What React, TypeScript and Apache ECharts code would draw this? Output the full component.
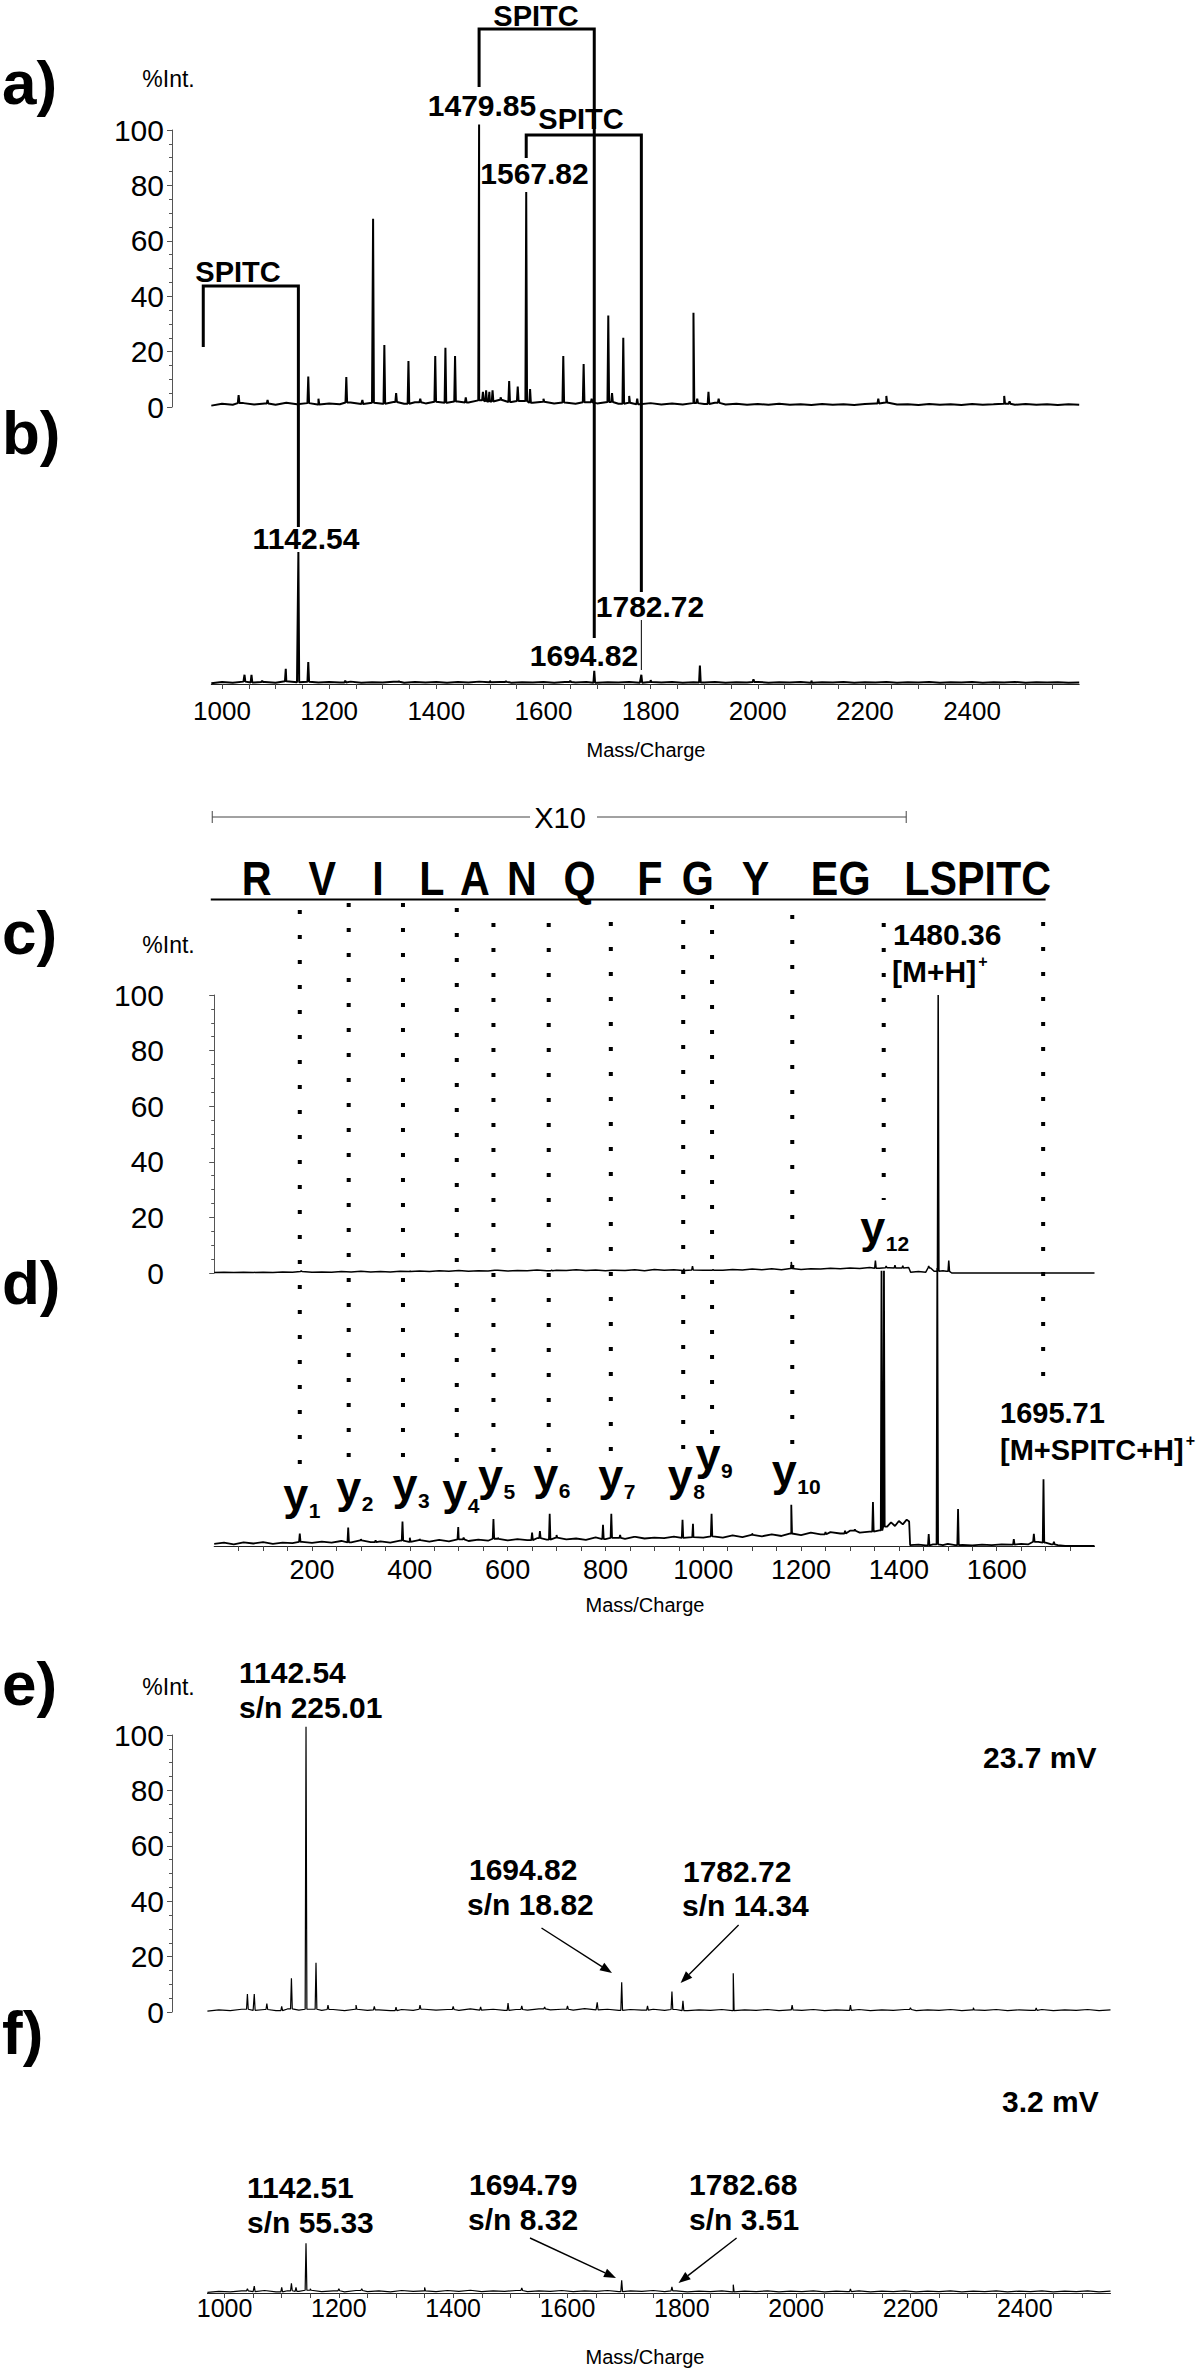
import React, { useEffect, useRef } from "react";
import * as echarts from "echarts";

const FONT = "'Liberation Sans', Arial, Helvetica, sans-serif";
const NOISE_STEP = 20;

// ---------------- Panels a / b : m/z 980 - 2600 ----------------
const AB_RANGE = [980, 2600];
const AB_TICK_LABELS = [1000, 1200, 1400, 1600, 1800, 2000, 2200, 2400];
const AB_MINOR_TICKS = [1000, 1050, 1100, 1150, 1200, 1250, 1300, 1350, 1400, 1450, 1500, 1550, 1600, 1650, 1700, 1750, 1800, 1850, 1900, 1950, 2000, 2050, 2100, 2150, 2200, 2250, 2300, 2350, 2400, 2450, 2500, 2550];
const A_NOISE = [
  0.5, 1.2, 0.8, 1.4, 0.9, 1.3, 0.8, 1.5, 1.0, 1.4,
  0.9, 1.3, 1.0, 1.6, 1.1, 1.5, 1.2, 1.8, 1.2, 1.7,
  1.3, 1.9, 1.5, 2.0, 1.6, 2.4, 2.0, 2.6, 1.8, 2.2,
  1.5, 1.9, 1.3, 1.6, 1.2, 1.7, 1.3, 1.8, 1.2, 1.5,
  1.0, 1.4, 0.9, 1.3, 0.9, 1.4, 1.1, 1.5, 0.9, 1.2,
  0.8, 1.1, 0.8, 1.2, 0.8, 1.0, 0.7, 1.1, 0.8, 1.0,
  0.7, 1.1, 1.3, 1.6, 0.9, 1.0, 0.7, 1.1, 0.8, 1.0,
  0.7, 1.1, 0.8, 1.0, 1.2, 0.8, 1.1, 0.8, 1.0, 0.7,
  1.0, 0.8,
];
const A_PEAKS = [
  [1031, 4.3], [1085, 2.5], [1161, 11], [1180, 3], [1232, 10.8], [1262, 2.5], [1282, 68], [1303, 22.4],
  [1325, 5], [1348, 16.6], [1370, 3], [1398, 18.4], [1417, 21.4], [1435, 18.4], [1455, 3.5], [1479.85, 102],
  [1487, 5.5], [1493, 6], [1499, 5.5], [1505, 6], [1520, 3.5], [1536, 9.4], [1552, 7.4], [1567.82, 77.6],
  [1575, 6.5], [1600, 3], [1637, 18.4], [1675, 15.5], [1690, 3], [1721, 33], [1728, 5], [1749, 25],
  [1760, 4], [1775, 3], [1880, 34], [1887, 3], [1908, 5.5], [1927, 3], [2225, 3], [2240, 4], [2460, 4], [2470, 2],
];
const B_NOISE = [
  0.5, 1.5, 1.0, 1.8, 1.2, 1.6, 1.0, 2.0, 1.3, 1.7,
  1.1, 1.5, 1.2, 1.8, 1.0, 1.4, 1.1, 1.7, 1.0, 1.5,
  1.2, 1.6, 1.0, 1.5, 1.1, 1.8, 1.3, 1.6, 1.0, 1.4,
  1.1, 1.5, 1.0, 1.6, 1.2, 1.5, 1.0, 1.4, 1.1, 1.6,
  1.0, 1.5, 1.2, 1.6, 1.0, 1.3, 1.1, 1.5, 1.0, 1.4,
  1.1, 1.6, 1.0, 1.3, 1.2, 1.5, 1.0, 1.4, 1.1, 1.5,
  1.0, 1.3, 1.1, 1.6, 1.0, 1.4, 1.2, 1.5, 1.0, 1.3,
  1.1, 1.5, 1.0, 1.4, 1.2, 1.5, 1.0, 1.3, 1.1, 1.4,
  1.0, 1.2,
];
const B_PEAKS = [
  [1042, 7], [1055, 7], [1075, 2.5], [1119, 11.5], [1142.54, 100], [1161, 16.7], [1230, 2.5], [1330, 2],
  [1500, 2.5], [1530, 2], [1650, 2.5], [1694.82, 10], [1782.72, 7], [1800, 3], [1892, 14], [1992, 3.5], [2100, 2.5],
];

// ---------------- Panels c / d : m/z 0 - 1800 ----------------
const CD_RANGE = [0, 1800];
const CD_TICK_LABELS = [200, 400, 600, 800, 1000, 1200, 1400, 1600];
const CD_MINOR_TICKS = [50, 100, 150, 200, 250, 300, 350, 400, 450, 500, 550, 600, 650, 700, 750, 800, 850, 900, 950, 1000, 1050, 1100, 1150, 1200, 1250, 1300, 1350, 1400, 1450, 1500, 1550, 1600, 1650, 1700, 1750];
const C_NOISE = [
  0.2, 0.3, 0.2, 0.3, 0.2, 0.3, 0.2, 0.4, 0.3, 0.5, 0.3, 0.4, 0.3, 0.5, 0.4, 0.6, 0.4, 0.5, 0.4, 0.6, 0.5,
  0.7, 0.5, 0.8, 0.6, 0.9, 0.6, 0.8, 0.7, 1.0, 0.7, 0.9, 0.8, 1.1, 0.8, 1.0, 0.9, 1.2, 0.9, 1.1, 0.8,
  1.0, 0.9, 1.2, 0.8, 1.3, 1.0, 1.2, 0.9, 1.1, 1.0,
  1.2, 1.0, 1.3, 1.1, 1.4, 1.2, 1.5, 1.2, 1.6, 1.3, 1.5, 1.4, 1.7, 1.5, 1.8, 1.6, 2.0, 1.7, 1.9, 1.8, 2.0,
];
const C_TAIL = [[1424, 0.3], [1440, 0.5], [1455, 0.3], [1465, 1.8], [1472, 0.6], [1490, 0.8], [1497, 0.6], [1508, 0], [1800, 0]];
const C_PEAKS = [
  [178, 0.8], [400, 0.8], [575, 1], [690, 1], [815, 1], [960, 1.5], [978, 2.5], [1020, 1], [1180, 4],
  [1352, 4.5], [1374, 2.5], [1392, 2.8], [1408, 2.6], [1461, 2.5], [1480.36, 100], [1502, 4.5],
];
const D_NOISE = [
  0.8, 1.2, 0.6, 1.3, 0.9, 1.4, 0.8, 1.2, 1.0, 1.5, 1.1,
  1.6, 1.2, 1.8, 1.3, 2.0, 1.4, 1.7, 1.2, 1.9, 1.5, 2.1, 1.6, 2.2, 1.7, 2.4, 1.8, 2.3, 1.9, 2.6, 2.0,
  2.5, 2.1, 2.8, 2.3, 3.0, 2.4, 2.7, 2.2, 3.1, 2.5, 2.9, 2.6, 3.3, 2.7, 3.0, 2.8, 3.4, 2.9, 3.2, 3.0,
  3.5, 3.0, 3.8, 3.2, 4.0, 3.5, 4.2, 3.6, 4.5, 3.9, 4.8, 4.2, 5.0, 4.5, 5.5, 4.8, 5.2, 5.6,
];
const D_TAIL = [
  [1376, 7], [1384, 8.5], [1392, 7.2], [1400, 9], [1408, 7.8], [1416, 9.5], [1421, 8.8], [1423, 0.3],
  [1440, 0.5], [1455, 0.2], [1470, 0.6], [1490, 0.3], [1500, 0.8], [1515, 0.3], [1530, 0.4], [1550, 0.2],
  [1570, 0.5], [1590, 0.3], [1610, 0.6], [1630, 0.5], [1650, 0.8], [1665, 0.6], [1685, 1.5], [1700, 1.2],
  [1712, 0.6], [1725, 0.3], [1740, 0], [1800, 0],
];
const D_PEAKS = [
  [175, 4.5], [274, 6.6], [300, 2.5], [330, 2], [385, 8.8], [400, 3], [420, 2.5], [499, 6.8], [510, 3],
  [571, 9.7], [580, 3], [650, 4.8], [666, 5.4], [686, 11.6], [700, 4], [795, 7.6], [812, 11.6], [830, 4],
  [860, 3.5], [957.6, 9.4], [979, 8], [1017, 11.6], [1100, 4.5], [1180, 14.8], [1250, 5], [1290, 5.5],
  [1310, 6], [1347, 15.8], [1364.5, 99], [1369.5, 99], [1461, 4.3], [1478.6, 100], [1521, 13.3],
  [1635, 2.5], [1676, 4.4], [1695.71, 24], [1717, 1.5],
];
const SEQUENCE = ["R", "V", "I", "L", "A", "N", "Q", "F", "G", "Y", "EG", "LSPITC"];
const SEQUENCE_MZ = [87, 221, 335, 445, 533, 629, 747, 891, 989, 1107, 1281, 1561];
const CLEAVAGE_MZ = [175, 275, 386, 496, 571, 684, 811, 959, 1018, 1182, 1369, 1695];
const Y_ION_SUBSCRIPTS = ["1", "2", "3", "4", "5", "6", "7", "8", "9", "10", "12"];

// ---------------- Panels e / f : m/z 970 - 2550 ----------------
const EF_RANGE = [970, 2550];
const EF_TICK_LABELS = [1000, 1200, 1400, 1600, 1800, 2000, 2200, 2400];
const EF_MINOR_TICKS = [1000, 1050, 1100, 1150, 1200, 1250, 1300, 1350, 1400, 1450, 1500, 1550, 1600, 1650, 1700, 1750, 1800, 1850, 1900, 1950, 2000, 2050, 2100, 2150, 2200, 2250, 2300, 2350, 2400, 2450, 2500];
const E_NOISE = [
  0.3, 0.8, 0.5, 1.0, 0.6, 0.9, 0.5, 1.1, 0.7, 1.0,
  0.6, 0.9, 0.5, 1.0, 0.6, 0.8, 0.5, 0.9, 0.6, 1.0,
  0.7, 0.9, 0.6, 1.1, 0.7, 1.0, 0.6, 0.9, 0.7, 1.1,
  0.8, 1.0, 0.7, 1.2, 0.8, 1.0, 0.6, 0.9, 0.7, 1.0,
  0.6, 0.9, 0.5, 0.8, 0.6, 0.9, 0.5, 0.8, 0.6, 0.9,
  0.5, 0.8, 0.6, 0.9, 0.5, 0.8, 0.6, 0.9, 0.5, 0.8,
  0.6, 0.9, 0.5, 0.8, 0.6, 0.9, 0.5, 0.8, 0.6, 0.9,
  0.5, 0.8, 0.6, 0.9, 0.5, 0.8, 0.6, 0.9, 0.5, 0.8,
];
const E_PEAKS = [
  [1040, 6.5], [1052, 6.5], [1074, 3], [1100, 2], [1117, 12.2], [1142.54, 103], [1160, 17.8], [1181, 2.5],
  [1230, 2.5], [1262, 2], [1300, 1.8], [1342, 2.5], [1400, 2], [1448, 1.8], [1496, 3.2], [1520, 2.2],
  [1560, 1.8], [1600, 2.2], [1652, 3.5], [1694.82, 10.7], [1740, 2.2], [1782.72, 7.4], [1802, 4], [1890, 14],
  [1993, 2.5], [2095, 2.5], [2200, 1.5], [2310, 1.5], [2420, 1.5],
];
const F_NOISE = [
  0.2, 0.6, 0.4, 0.8, 0.5, 0.9, 0.4, 0.8, 0.6, 1.0,
  0.5, 0.8, 0.4, 0.9, 0.5, 0.8, 0.4, 0.9, 0.6, 0.8,
  0.5, 0.9, 0.6, 1.0, 0.5, 0.8, 0.6, 0.9, 0.5, 0.8,
  0.6, 0.9, 0.5, 0.8, 0.6, 0.9, 0.5, 0.8, 0.6, 0.9,
  0.5, 0.8, 0.4, 0.7, 0.5, 0.8, 0.4, 0.7, 0.5, 0.8,
  0.4, 0.7, 0.5, 0.8, 0.4, 0.7, 0.5, 0.8, 0.4, 0.7,
  0.5, 0.8, 0.4, 0.7, 0.5, 0.8, 0.4, 0.7, 0.5, 0.8,
  0.4, 0.7, 0.5, 0.8, 0.4, 0.7, 0.5, 0.8, 0.4, 0.7,
];
const F_PEAKS = [
  [1040, 1.5], [1052, 2.5], [1100, 2], [1117, 3.5], [1125, 2], [1142.51, 18], [1150, 1.5], [1200, 1.5],
  [1240, 1.5], [1350, 2], [1520, 1.8], [1694.79, 4.6], [1782.68, 2.2], [1890, 3], [2095, 1.5],
];

// --------------------------------------------------------------
function buildSpectrum(start: number, noise: number[], peaks: number[][], tail: number[][] = [], halfWidth = 1.5) {
  const pts: number[][] = noise.map((v, i) => [start + i * NOISE_STEP, v]).concat(tail);
  const base = (m: number) => {
    let best = pts[0];
    for (const p of pts) if (Math.abs(p[0] - m) < Math.abs(best[0] - m)) best = p;
    return best[1];
  };
  const out = pts.slice();
  for (const [m, h] of peaks) {
    const b = Math.min(base(m), h);
    out.push([m - halfWidth, b], [m, h], [m + halfWidth, b]);
  }
  out.sort((a, b) => a[0] - b[0]);
  return out;
}

const GRIDS = [
  { left: 211.3, top: 130, width: 867.9, height: 277 },
  { left: 211.3, top: 552, width: 867.9, height: 132 },
  { left: 214.2, top: 995, width: 880.3, height: 278 },
  { left: 214.2, top: 1268, width: 880.3, height: 278 },
  { left: 207.4, top: 1735, width: 903.1, height: 277 },
  { left: 207.4, top: 2016, width: 903.1, height: 277 },
];

const plain = (v: number) => String(v);

const yVisible = (gridIndex: number, offset: number) => ({
  type: "value", gridIndex, min: 0, max: 100, interval: 20, offset,
  axisLine: { show: true, lineStyle: { color: "#555", width: 1 } },
  axisTick: { show: true, length: 5, lineStyle: { color: "#555" } },
  minorTick: { show: true, splitNumber: 4, length: 3, lineStyle: { color: "#555" } },
  axisLabel: { color: "#000", fontSize: 30, fontFamily: FONT, margin: 8, formatter: plain },
  splitLine: { show: false },
  minorSplitLine: { show: false },
});
const yHidden = (gridIndex: number) => ({ type: "value", gridIndex, min: 0, max: 100, show: false });
const xHidden = (gridIndex: number, range: number[]) => ({ type: "value", gridIndex, min: range[0], max: range[1], show: false });
const xVisible = (gridIndex: number, range: number[], ticks: number[], labels: number[], fontSize: number, margin: number) => ({
  type: "value", gridIndex, min: range[0], max: range[1], position: "bottom",
  axisLine: { show: true, onZero: false, lineStyle: { color: "#222", width: 1 } },
  axisTick: { show: true, customValues: ticks, length: 5, lineStyle: { color: "#444" } },
  axisLabel: { customValues: labels, fontSize, margin, color: "#000", fontFamily: FONT, formatter: plain },
  splitLine: { show: false },
});
const lineSeries = (idx: number, data: number[][], width: number) => ({
  type: "line", xAxisIndex: idx, yAxisIndex: idx, data, symbol: "none", showSymbol: false,
  clip: false, silent: true, lineStyle: { color: "#000", width }, z: 5,
});

function buildOption() {
  return {
    animation: false,
    backgroundColor: "#fff",
    grid: GRIDS,
    xAxis: [
      xHidden(0, AB_RANGE),
      xVisible(1, AB_RANGE, AB_MINOR_TICKS, AB_TICK_LABELS, 26, 14),
      xHidden(2, CD_RANGE),
      xVisible(3, CD_RANGE, CD_MINOR_TICKS, CD_TICK_LABELS, 27, 10),
      xHidden(4, EF_RANGE),
      xVisible(5, EF_RANGE, EF_MINOR_TICKS, EF_TICK_LABELS, 25, 2),
    ],
    yAxis: [
      yVisible(0, 39.3), yHidden(1),
      yVisible(2, 42.2), yHidden(3),
      yVisible(4, 35.4), yHidden(5),
    ],
    series: [
      lineSeries(0, buildSpectrum(AB_RANGE[0], A_NOISE, A_PEAKS), 2),
      lineSeries(1, buildSpectrum(AB_RANGE[0], B_NOISE, B_PEAKS), 2),
      lineSeries(2, buildSpectrum(CD_RANGE[0], C_NOISE, C_PEAKS, C_TAIL), 1.5),
      lineSeries(3, buildSpectrum(CD_RANGE[0], D_NOISE, D_PEAKS, D_TAIL), 1.8),
      lineSeries(4, buildSpectrum(EF_RANGE[0], E_NOISE, E_PEAKS), 1.2),
      lineSeries(5, buildSpectrum(EF_RANGE[0], F_NOISE, F_PEAKS), 1.2),
    ],
  };
}

function measure(s: string, size: number, weight: string) {
  try {
    const ctx = document.createElement("canvas").getContext("2d");
    if (!ctx) return s.length * size * 0.6;
    ctx.font = `${weight} ${size}px ${FONT}`;
    return ctx.measureText(s).width;
  } catch (e) {
    return s.length * size * 0.6;
  }
}

function buildGraphics(chart: any) {
  const P = (g: number, m: number, v: number) => chart.convertToPixel({ gridIndex: g }, [m, v]) as number[];
  const X = (g: number, m: number) => P(g, m, 0)[0];
  const els: any[] = [];
  const txt = (x: number, y: number, s: string, size: number, opts: any = {}) => {
    const align = opts.align || "center";
    els.push({
      type: "text", x, y, silent: true, z: 100, scaleX: opts.scaleX || 1,
      style: {
        text: s, fill: "#000", fontFamily: FONT, fontSize: size,
        fontWeight: opts.bold === false ? "normal" : "bold",
        align, verticalAlign: "middle", textAlign: align, textVerticalAlign: "middle",
      },
    });
  };
  const seg = (x1: number, y1: number, x2: number, y2: number, w: number, opts: any = {}) => {
    els.push({
      type: "line", silent: true, z: 90, shape: { x1, y1, x2, y2 },
      style: { stroke: opts.color || "#000", lineWidth: w, lineDash: opts.dash, lineCap: "butt" },
    });
  };
  const poly = (pts: number[][], w: number) => {
    els.push({ type: "polyline", silent: true, z: 90, shape: { points: pts }, style: { stroke: "#000", lineWidth: w, lineJoin: "miter", fill: null } });
  };
  const arrow = (x1: number, y1: number, x2: number, y2: number) => {
    const a = Math.atan2(y2 - y1, x2 - x1);
    const L = 12, Wd = 4.5;
    const bx = x2 - L * Math.cos(a), by = y2 - L * Math.sin(a);
    const px = -Math.sin(a) * Wd, py = Math.cos(a) * Wd;
    seg(x1, y1, bx, by, 1.4);
    els.push({ type: "polygon", silent: true, z: 90, shape: { points: [[x2, y2], [bx + px, by + py], [bx - px, by - py]] }, style: { fill: "#000" } });
  };

  // panel letters
  [["a)", 82.5], ["b)", 432.5], ["c)", 932.5], ["d)", 1282.5], ["e)", 1683.5], ["f)", 2032.5]].forEach(([s, y]) =>
    txt(2, y as number, s as string, 62, { align: "left" })
  );
  // %Int. axis titles
  [79, 945, 1687].forEach((y) => txt(168.5, y, "%Int.", 23, { bold: false }));
  // Mass/Charge axis names
  [[646, 750], [645, 1605], [645, 2357]].forEach(([x, y]) => txt(x, y, "Mass/Charge", 20, { bold: false }));

  // ---- a / b brackets
  const b1L = X(0, 965), b1R = X(0, 1142.54);
  const b2L = X(0, 1479.85), b2R = X(0, 1694.82);
  const b3L = X(0, 1567.82), b3R = X(0, 1782.72);
  poly([[b1L, 347], [b1L, 286], [b1R, 286], [b1R, 527]], 3);
  poly([[b2L, 87], [b2L, 29], [b2R, 29], [b2R, 638]], 3);
  poly([[b3L, 158], [b3L, 135], [b3R, 135], [b3R, 592]], 3);
  seg(b3R, 620, b3R, 670, 1);
  txt(238, 272, "SPITC", 29);
  txt(536, 15.5, "SPITC", 29);
  txt(581, 119, "SPITC", 29);
  txt(482, 105.5, "1479.85", 30);
  txt(534.5, 173.5, "1567.82", 30);
  txt(306, 538.3, "1142.54", 30);
  txt(650, 606.7, "1782.72", 30);
  txt(584, 655, "1694.82", 30);

  // ---- c / d
  const x10L = X(2, -4), x10R = X(2, 1415);
  seg(x10L, 817, 530, 817, 1, { color: "#444" });
  seg(597, 817, x10R, 817, 1, { color: "#444" });
  seg(x10L, 811, x10L, 823, 1, { color: "#444" });
  seg(x10R, 811, x10R, 823, 1, { color: "#444" });
  txt(560, 817.5, "X10", 29, { bold: false });
  SEQUENCE.forEach((s, i) => txt(X(2, SEQUENCE_MZ[i]), 878, s, 48, { scaleX: 0.86 }));
  seg(X(2, -7), 899.5, X(2, 1700), 899.5, 2);
  const dotTop = [910, 903, 903, 908, 923, 923, 922, 920, 905, 915, 923, 922];
  const dotBottom = [1465, 1458, 1458, 1463, 1453, 1453, 1453, 1450, 1435, 1445, 1200, 1377];
  CLEAVAGE_MZ.forEach((m, i) => {
    const x = X(3, m);
    seg(x, dotTop[i], x, dotBottom[i], 4, { dash: [4, 21] });
  });
  const yDx = [-4, 0, 2, -2, -3, -3, 0, -3, -4, -8, -11];
  const yBase = [1510, 1503, 1500, 1505, 1491, 1490, 1491, 1491, 1470, 1486, 1243];
  Y_ION_SUBSCRIPTS.forEach((sub, i) => {
    const cx = X(3, CLEAVAGE_MZ[i]) + yDx[i];
    txt(cx, yBase[i] - 15.6, "y", 45);
    txt(cx + 13, yBase[i] + 8 - 7.3, sub, 21, { align: "left" });
  });
  txt(893, 934, "1480.36", 30, { align: "left" });
  txt(892, 971, "[M+H]", 30, { align: "left" });
  txt(892 + measure("[M+H]", 30, "bold") + 2, 961, "+", 16, { align: "left" });
  txt(1000, 1413, "1695.71", 29, { align: "left" });
  txt(1000, 1450, "[M+SPITC+H]", 29, { align: "left" });
  txt(1000 + measure("[M+SPITC+H]", 29, "bold") + 2, 1440, "+", 16, { align: "left" });

  // ---- e / f
  const left = { align: "left" };
  txt(239, 1672, "1142.54", 30, left);
  txt(239, 1707, "s/n 225.01", 30, left);
  txt(983, 1757.5, "23.7 mV", 30, left);
  txt(469, 1869, "1694.82", 30, left);
  txt(467, 1904, "s/n 18.82", 30, left);
  txt(683, 1871, "1782.72", 30, left);
  txt(682, 1905, "s/n 14.34", 30, left);
  txt(1002, 2101.5, "3.2 mV", 30, left);
  txt(247, 2187.5, "1142.51", 30, left);
  txt(247, 2222.5, "s/n 55.33", 30, left);
  txt(469, 2184, "1694.79", 30, left);
  txt(468, 2219, "s/n 8.32", 30, left);
  txt(689, 2184, "1782.68", 30, left);
  txt(689, 2219, "s/n 3.51", 30, left);
  arrow(541.5, 1928, 612, 1973);
  arrow(738.6, 1925, 680.6, 1983);
  arrow(530, 2238, 616, 2278);
  arrow(736.6, 2238, 678.5, 2283);

  return els;
}

export default function App() {
  const ref = useRef<HTMLDivElement>(null);
  useEffect(() => {
    if (!ref.current) return;
    const chart = echarts.init(ref.current, undefined, { renderer: "svg", width: 1200, height: 2369 });
    chart.setOption(buildOption() as any);
    chart.setOption({ graphic: buildGraphics(chart) } as any);
    return () => chart.dispose();
  }, []);
  return (
    <div
      ref={ref}
      style={{ position: "absolute", left: 0, top: 0, width: 1200, height: 2369, background: "#fff" }}
    />
  );
}
